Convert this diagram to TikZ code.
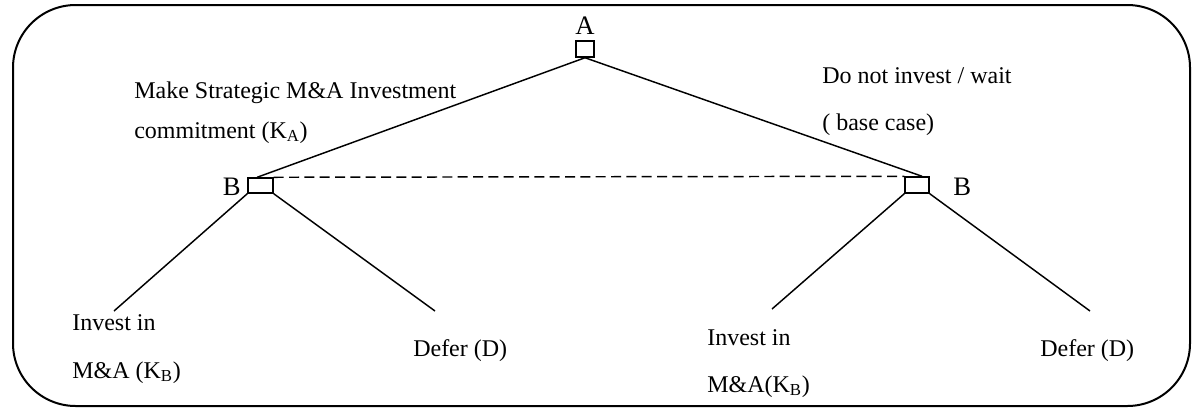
\documentclass[tikz,border=0pt]{standalone}
\usepackage{fontspec}
\setmainfont{Liberation Serif}
\begin{document}
\begin{tikzpicture}[x=0.75pt,y=-0.75pt,
  frame/.style={draw,line width=1.5pt,rounded corners=47pt},
  branch/.style={line width=1.1pt},
  dashlink/.style={line width=1.1pt,dash pattern=on 7.5pt off 4pt},
  decbox/.style={draw,line width=1.1pt,inner sep=0pt,minimum width=#1},
  lbl/.style={font=\fontsize{18}{21}\selectfont,inner sep=0pt,anchor=base west},
  big/.style={font=\fontsize{20}{23}\selectfont,inner sep=0pt}]
\useasboundingbox (0,0) rectangle (1192,408);
\draw[frame] (13,5) rectangle (1190,406);

% decision nodes
\node[decbox=13.5pt,minimum height=12pt] (A) at (585,49) {};
\node[decbox=18.75pt,minimum height=11.25pt] (BL) at (260.5,185.5) {};
\node[decbox=18pt,minimum height=12pt] (BR) at (917,185) {};

\node[big,anchor=base] (labA) at (585,34) {A};
\node[big,anchor=base east] (labBL) at (241,195) {B};
\node[big,anchor=base west] (labBR) at (953,195) {B};

% leaf ends
\coordinate (LL) at (114,311);
\coordinate (LR) at (435,311);
\coordinate (RL) at (772,309);
\coordinate (RR) at (1090,311);

% branches
\draw[branch] (A.south) -- ([xshift=-2.5pt]BL.north);
\draw[branch] (A.south) -- ([xshift=3.75pt]BR.north);
\draw[dashlink] (BL.north east) -- (BR.north west);
\draw[branch] (BL.south west) -- (LL);
\draw[branch] (BL.south east) -- (LR);
\draw[branch] (BR.south west) -- (RL);
\draw[branch] (BR.south east) -- (RR);

% labels
\node[lbl] (make1) at (134,98) {Make Strategic M\&A Investment};
\node[lbl] (make2) at (134,138) {commitment (K\textsubscript{A})};
\node[lbl] (wait1) at (822,83) {Do not invest / wait};
\node[lbl] (wait2) at (822,130) {( base case)};
\node[lbl] (invL1) at (72,330) {Invest in};
\node[lbl] (invL2) at (72,378) {M\&A (K\textsubscript{B})};
\node[lbl] (defL) at (413,356) {Defer (D)};
\node[lbl] (invR1) at (707,345) {Invest in};
\node[lbl] (invR2) at (707,392) {M\&A(K\textsubscript{B})};
\node[lbl] (defR) at (1040,356) {Defer (D)};
\end{tikzpicture}
\end{document}
